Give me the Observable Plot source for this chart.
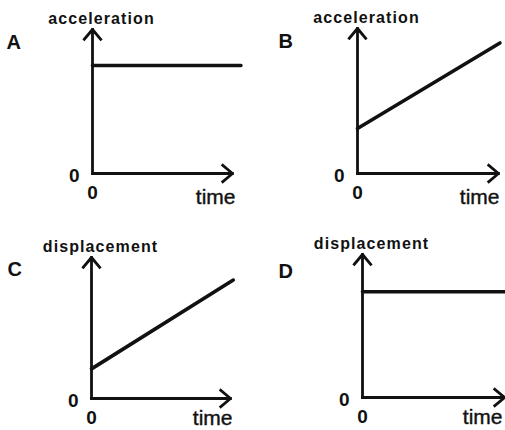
<!DOCTYPE html>
<html><head><meta charset="utf-8">
<script src="https://cdn.jsdelivr.net/npm/d3@7"></script>
<script src="https://cdn.jsdelivr.net/npm/@observablehq/plot@0.6"></script>
<style>
html,body{margin:0;padding:0;background:#fff;}
#chart{position:relative;width:505px;height:430px;overflow:hidden;background:#fff;}
#chart svg{position:absolute;left:0;top:0;background:transparent;}
</style></head><body><div id="chart"></div>
<script>
// ---- data ----
const panelLetters = ["A", "B", "C", "D"];
const yAxisLabels = ["acceleration", "acceleration", "displacement", "displacement"];
const xAxisLabel = "time";
const originLabel = "0";
const startTime = [0, 0, 0, 0];
const startValue = [7.5, 3.1, 2.1, 7.4];
const endTime = [10.6, 10.1, 10.2, 10.1];
const endValue = [7.5, 9.0, 8.4, 7.4];
const axisMax = 10;

// ---- layout (pixels) ----
const layout = [
  {ox: 92,  oy: 173, tx: 232, ty: 29,  ldx: -86, ldy: 19, tdx: 3,  tdy: 30},
  {ox: 357, oy: 173, tx: 498, ty: 28,  ldx: -79, ldy: 19, tdx: 1,  tdy: 30},
  {ox: 91,  oy: 398, tx: 230, ty: 257, ldx: -84, ldy: 18, tdx: 2,  tdy: 26},
  {ox: 362, oy: 397, tx: 504, ty: 254, ldx: -84, ldy: 23, tdx: -2, tdy: 26}
];
const W = 505, H = 430;
const ink = "#111";
const font = '"Liberation Sans", Arial, Helvetica, sans-serif';
const chart = document.getElementById("chart");

panelLetters.forEach((letter, i) => {
  const L = layout[i];
  const lineData = [
    {t: startTime[i], v: startValue[i]},
    {t: endTime[i], v: endValue[i]}
  ];
  const origin = [{x: 0, y: 0}];
  const yTip = [{x: 0, y: axisMax, label: yAxisLabels[i], letter}];
  const xTip = [{x: axisMax, y: 0, label: xAxisLabel}];
  const svg = Plot.plot({
    width: W, height: H,
    marginLeft: L.ox, marginRight: W - L.tx, marginTop: L.ty, marginBottom: H - L.oy,
    x: {domain: [0, axisMax], axis: null},
    y: {domain: [0, axisMax], axis: null},
    style: {background: "transparent", overflow: "visible", fontFamily: font},
    marks: [
      Plot.line(lineData, {x: "t", y: "v", stroke: ink, strokeWidth: 3.6}),
      Plot.arrow(origin, {x1: "x", y1: "y", x2: "x", y2: () => axisMax, stroke: ink, strokeWidth: 2.8, headLength: 6.8, headAngle: 80, strokeLinecap: "square"}),
      Plot.arrow(origin, {x1: "x", y1: "y", x2: () => axisMax, y2: "y", stroke: ink, strokeWidth: 2.8, headLength: 6.8, headAngle: 80, strokeLinecap: "square"}),
      Plot.text(yTip, {x: "x", y: "y", text: "label", textAnchor: "middle", lineAnchor: "bottom", dx: 9, dy: -6, fontSize: 16, fontWeight: "bold", fill: ink, fontFamily: font}),
      Plot.text(yTip, {x: "x", y: "y", text: "letter", textAnchor: "start", lineAnchor: "bottom", dx: L.ldx, dy: L.ldy, fontSize: 20, fontWeight: "bold", fill: ink, fontFamily: font}),
      Plot.text(origin, {x: "x", y: "y", text: () => originLabel, textAnchor: "end", lineAnchor: "middle", dx: -13, dy: 2, fontSize: 19, fontWeight: "bold", fill: ink, fontFamily: font}),
      Plot.text(origin, {x: "x", y: "y", text: () => originLabel, textAnchor: "middle", lineAnchor: "top", dx: 0, dy: 12, fontSize: 19, fontWeight: "bold", fill: ink, fontFamily: font}),
      Plot.text(xTip, {x: "x", y: "y", text: "label", textAnchor: "end", lineAnchor: "bottom", dx: L.tdx, dy: L.tdy, fontSize: 21, fill: ink, fontFamily: font, stroke: ink, strokeWidth: 0.4})
    ]
  });
  d3.select(svg).selectAll('g[font-size="16"] text').attr("letter-spacing", "1.1");
  chart.appendChild(svg);
});
</script>
</body></html>
